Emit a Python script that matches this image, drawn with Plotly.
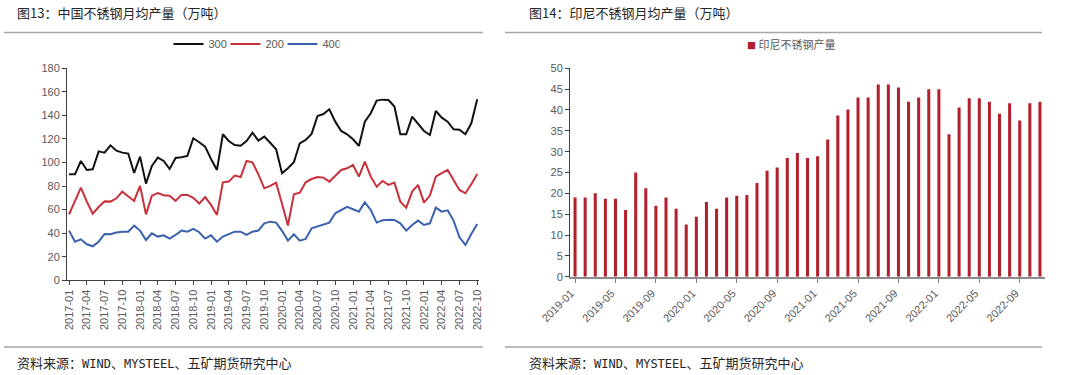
import plotly.graph_objects as go

# ---------------- data ----------------
left_months = [f"{y}-{m:02d}" for y in range(2017, 2023) for m in range(1, 13)][:70]  # 2017-01 .. 2022-10
left_ticks = left_months[::3]

s300 = [90, 90, 101.3, 93.7, 94.3, 109.5, 108.4, 114.6, 110.1, 108.4,
        107.6, 91.1, 105, 82.1, 97.1, 104.2, 101.3, 94.5, 103.9, 104.4,
        105.6, 120.6, 117.2, 113.5, 103, 93.7, 124, 118.3, 114.9, 114.3,
        118.3, 125.4, 118.6, 122, 116.8, 111.3, 90.9, 95.1, 100.2, 116.3,
        119.2, 124.3, 139.5, 141.2, 145.2, 134.7, 126.8, 124, 119.7, 114.1,
        134.7, 141.8, 152.6, 153.4, 153.1, 147.5, 124, 124, 139, 133.3,
        126.8, 123.4, 143.8, 138.1, 134.7, 128.2, 127.9, 124, 133.3, 153.7]
s200 = [56, 67, 78.7, 66.8, 56.6, 62.2, 67, 66.8, 69.6, 75.3,
        71, 67.4, 80.1, 56, 71.9, 74, 72.2, 71.8, 67.4, 72.5,
        72.5, 70, 65.2, 70.6, 64, 55.5, 83.2, 83.8, 88.9, 87.7,
        101.3, 100.2, 90, 78.1, 80.1, 82.9, 65, 46.5, 73, 74.4,
        83.2, 86, 87.7, 87.2, 83.8, 88.9, 93.7, 95.1, 97.9, 88,
        100.8, 88, 79.5, 84.3, 81, 82.9, 66.8, 61.7, 75.3, 81,
        66, 71.9, 88, 90.9, 93.7, 85.2, 76.7, 73.9, 81.5, 90.3]
s400 = [42.2, 32.8, 34.8, 30.6, 28.9, 32.8, 39.3, 39.1, 40.5, 41.3,
        41.3, 46.4, 42.2, 34.2, 39.9, 37.1, 38.2, 35.4, 38.5, 42.2,
        41.3, 43.6, 40.8, 35.4, 38.2, 32.8, 37.1, 39.1, 41.3, 41.3,
        38.5, 41.3, 42.2, 48.4, 49.8, 49, 42, 33.7, 39.1, 33.7,
        35.1, 44.2, 45.9, 47.6, 49, 56.9, 59.4, 62.3, 60.3, 58.3,
        66.2, 59.7, 49, 51, 51.5, 51.2, 48.4, 42.2, 47, 50.7,
        47, 48.4, 61.7, 58.3, 59.4, 50.7, 36.5, 30, 39.3, 47.8]

right_months = [f"{y}-{m:02d}" for y in range(2019, 2023) for m in range(1, 13)][:47]  # 2019-01 .. 2022-11
right_ticks = right_months[::4]
indo = [19, 19, 20, 18.7, 18.7, 16, 25, 21.2, 17, 19,
        16.3, 12.5, 14.4, 17.9, 16.3, 19, 19.4, 19.6, 22.5, 25.4,
        26.2, 28.5, 29.7, 28.5, 28.9, 32.9, 38.7, 40.1, 43, 43,
        46.1, 46.1, 45.4, 42, 43, 45, 45, 34.2, 40.6, 42.8,
        42.8, 42, 39.1, 41.6, 37.5, 41.6, 42]
indo_name = "印尼不锈钢产量"

title_left = "图13：中国不锈钢月均产量（万吨）"
title_right = "图14：印尼不锈钢月均产量（万吨）"
source = ('资料来源：<span style="font-family:DejaVu Sans Mono;font-size:12px">WIND</span>、'
          '<span style="font-family:DejaVu Sans Mono;font-size:12px">MYSTEEL</span>、五矿期货研究中心')

# ---------------- figure ----------------
W, H = 1080, 375
def px(x):
    return x / W
def py(y):
    return (H - y) / H

TICK_FONT = dict(family="Arial, Liberation Sans, Noto Sans CJK SC", size=11, color="#595959")
CJK = "Noto Sans CJK SC"
BAR_COLOR = "#B21F2D"

fig = go.Figure()
fig.add_trace(go.Scatter(x=left_months, y=s300, name="300", mode="lines",
                         line=dict(color="#111111", width=2), xaxis="x", yaxis="y", legend="legend"))
fig.add_trace(go.Scatter(x=left_months, y=s200, name="200", mode="lines",
                         line=dict(color="#C8303A", width=2), xaxis="x", yaxis="y", legend="legend"))
fig.add_trace(go.Scatter(x=left_months, y=s400, name="400", mode="lines",
                         line=dict(color="#3A62AC", width=2), xaxis="x", yaxis="y", legend="legend"))
fig.add_trace(go.Bar(x=right_months, y=indo, name=indo_name, width=0.3,
                     marker=dict(color=BAR_COLOR, line=dict(width=0)),
                     xaxis="x2", yaxis="y2", showlegend=False))

common_axis = dict(showgrid=False, zeroline=False, automargin=False)
fig.update_layout(
    template="none",
    width=W, height=H, autosize=False,
    margin=dict(l=0, r=0, t=0, b=0, pad=0),
    paper_bgcolor="white", plot_bgcolor="white",
    font=dict(family="Arial, Noto Sans CJK SC", color="#595959"),
    xaxis=dict(domain=[px(67), px(479)], type="category", range=[-0.35, 69.3],
               tickmode="array", tickvals=left_ticks, ticktext=left_ticks,
               tickangle=-90, tickfont=TICK_FONT, ticks="outside", ticklen=4,
               tickcolor="#404040", showline=True, linecolor="#404040", linewidth=1,
               anchor="y", **common_axis),
    yaxis=dict(domain=[py(280.3), py(68.3)], range=[0, 180], dtick=20,
               tickfont=TICK_FONT, ticks="outside", ticklen=4, tickcolor="#404040",
               showline=True, linecolor="#404040", linewidth=1,
               anchor="x", **common_axis),
    xaxis2=dict(domain=[px(570), px(1045)], type="category", range=[-0.5, 46.5],
                tickmode="array", tickvals=right_ticks, ticktext=right_ticks,
                tickangle=-45, tickfont=TICK_FONT, ticks="outside", ticklen=4,
                ticklabelshift=-4,
                tickcolor="#808080", showline=True, linecolor="#8C8C8C", linewidth=2,
                anchor="y2", **common_axis),
    yaxis2=dict(domain=[py(276.7), py(68.3)], range=[0, 50], dtick=5,
                tickfont=TICK_FONT, ticks="outside", ticklen=4, tickcolor="#404040",
                showline=True, linecolor="#404040", linewidth=1,
                anchor="x2", **common_axis),
    legend=dict(orientation="h", x=px(254), y=py(44), xanchor="center", yanchor="middle",
                font=dict(family="Arial, Noto Sans CJK SC", size=11, color="#595959"),
                bgcolor="rgba(0,0,0,0)", entrywidth=12, itemwidth=30),
    showlegend=True,
)

# right legend (marker + name)
fig.add_annotation(text=f'<span style="color:{BAR_COLOR};font-size:9px">■</span> {indo_name}',
                   x=px(745), y=py(44), xref="paper", yref="paper", align="left",
                   xanchor="left", yanchor="middle", showarrow=False,
                   font=dict(family=CJK, size=11, color="#595959"))

# titles
for tx, txt in [(15, title_left), (527, title_right)]:
    fig.add_annotation(text=txt, x=px(tx), y=py(13), xref="paper", yref="paper", align="left",
                       xanchor="left", yanchor="middle", showarrow=False,
                       font=dict(family=CJK, size=13, color="#262626"))
# sources
for tx in (15, 527):
    fig.add_annotation(text=source, x=px(tx), y=py(362), xref="paper", yref="paper", align="left",
                       xanchor="left", yanchor="middle", showarrow=False,
                       font=dict(family=CJK, size=13, color="#262626"))

# separator lines
for (x0, x1) in [(4, 483), (505, 1042)]:
    for yy in (32.5, 347):
        fig.add_shape(type="line", xref="paper", yref="paper",
                      x0=px(x0), x1=px(x1), y0=py(yy), y1=py(yy),
                      line=dict(color="#A6A6A6", width=1.5))

fig.write_html("out.html", config={"displayModeBar": False},
               post_script="document.body.style.margin='0';document.body.style.overflow='hidden';")
